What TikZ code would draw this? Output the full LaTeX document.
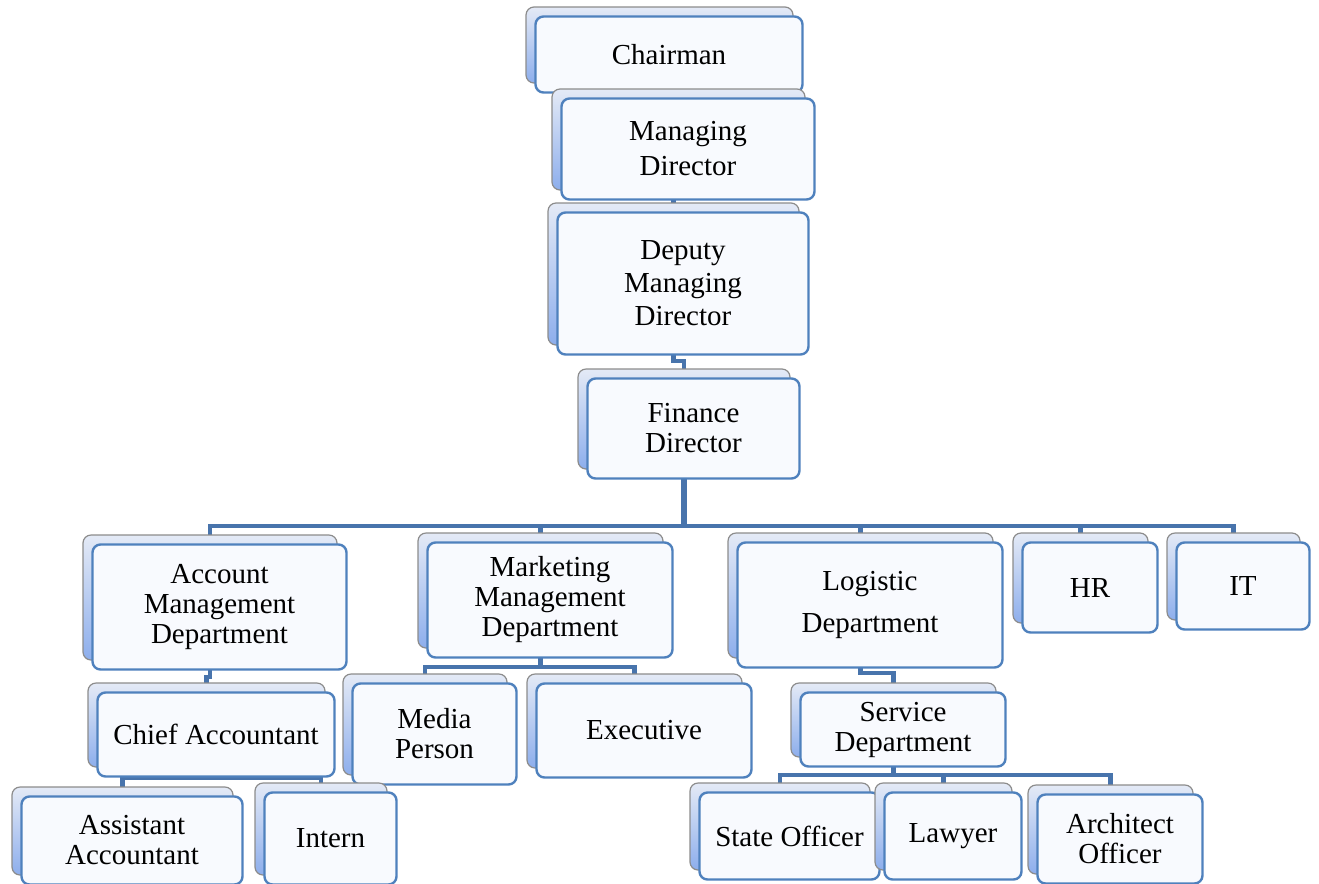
\documentclass[tikz,border=0pt]{standalone}
\usepackage{fontspec}
\setmainfont{Liberation Serif}
\usetikzlibrary{calc}
\pgfdeclarelayer{bg}
\pgfsetlayers{bg,main}
\definecolor{conncol}{HTML}{4874AC}
\definecolor{frontcol}{HTML}{4F81BD}
\definecolor{frontfill}{HTML}{F8FAFE}
\definecolor{backtop}{HTML}{E4EAF6}
\definecolor{backbot}{HTML}{8DAEEC}
\definecolor{backline}{HTML}{8C8C8C}
\tikzset{
  backbox/.style={rectangle, rounded corners=6pt, draw=backline, line width=0.9pt,
    top color=backtop, bottom color=backbot, inner sep=0pt, outer sep=0pt},
  frontbox/.style={rectangle, rounded corners=6pt, draw=frontcol, line width=1.8pt,
    fill=frontfill, inner sep=0pt, outer sep=0pt, align=center,
    font=\fontsize{21.75}{22.5}\selectfont},
  conn/.style={draw=conncol, line width=3.2pt, line join=miter},
}
% #1 extra front options, #2 name, #3 x1, #4 y1, #5 x2, #6 y2, #7 text
\newcommand\orgbox[7][]{%
  \node[backbox, minimum width={(#5-#3)*0.75pt}, minimum height={(#6-#4)*0.75pt}]
    (#2B) at ({(#3+#5)/2},{(#4+#6)/2}) {};
  \node[frontbox, minimum width={(#5-#3)*0.75pt}, minimum height={(#6-#4)*0.75pt}, #1]
    (#2) at ({(#3+#5)/2+9.5},{(#4+#6)/2+9.5}) {#7};
}
\begin{document}
\begin{tikzpicture}[x=0.75pt,y=-0.75pt]
\useasboundingbox (0,0) rectangle (1319,883);
\begin{pgfonlayer}{bg}
\fill[white] (0,0) rectangle (1319,883);
\end{pgfonlayer}

\orgbox{chair}{526}{7}{793}{83}{Chairman}
\orgbox[font=\fontsize{21.75}{26.25}\selectfont]{md}{552}{89}{805}{190}{Managing\\Director}
\orgbox[font=\fontsize{21.75}{24.75}\selectfont]{dep}{548}{203}{799}{345}{Deputy\\Managing\\Director}
\orgbox{fin}{578}{369}{790}{469}{Finance\\Director}
\orgbox{acc}{83}{535}{337}{660}{Account\\Management\\Department}
\orgbox{mkt}{418}{533}{663}{648}{Marketing\\Management\\Department}
\orgbox[font=\fontsize{21.75}{31.5}\selectfont]{log}{728}{533}{993}{658}{Logistic\\Department}
\orgbox{hr}{1013}{533}{1148}{623}{HR}
\orgbox{it}{1167}{533}{1300}{620}{IT}
\orgbox{chief}{88}{683}{325}{767}{Chief Accountant}
\orgbox{media}{343}{674}{507}{775}{Media\\Person}
\orgbox{exec}{527}{674}{742}{768}{Executive}
\orgbox{serv}{791}{683}{996}{757}{Service\\Department}
\orgbox{asst}{12}{787}{233}{875}{Assistant\\Accountant}
\orgbox{intern}{255}{783}{387}{875}{Intern}
\orgbox{state}{690}{783}{870}{870}{State Officer}
\orgbox{lawyer}{875}{783}{1012}{870}{Lawyer}
\orgbox{arch}{1028}{785}{1193}{874}{Architect\\Officer}

\coordinate (lvA) at (0,86);
\coordinate (lvB) at (0,196);
\coordinate (lvC) at (0,361);
\coordinate (lvD) at (0,526);
\coordinate (lvE) at (0,677);
\coordinate (lvF) at (0,667);
\coordinate (lvG) at (0,673);
\coordinate (lvH) at (0,778);
\coordinate (lvI) at (0,775);

\begin{pgfonlayer}{bg}
\draw[conn] (chairB.south) -- (chairB.south |- lvA) -| (mdB.north);
\draw[conn] (mdB.south) -- (mdB.south |- lvB) -| (depB.north);
\draw[conn] (depB.south) -- (depB.south |- lvC) -| (finB.north);
\draw[conn, line width=3.8pt] (finB.south) -- (finB.south |- lvD);
\foreach \c in {acc,mkt,log,hr,it}{
  \draw[conn] (finB.south |- lvD) -| (\c B.north);
}
\draw[conn] (accB.south) -- (accB.south |- lvE) -| (chiefB.north);
\draw[conn] (chiefB.south) -- (chiefB.south |- lvH) -| (asstB.north);
\draw[conn] (chiefB.south) -- (chiefB.south |- lvH) -| (internB.north);
\draw[conn] (mktB.south) -- (mktB.south |- lvF) -| (mediaB.north);
\draw[conn] (mktB.south) -- (mktB.south |- lvF) -| (execB.north);
\draw[conn] (logB.south) -- (logB.south |- lvG) -| (servB.north);
\foreach \c in {state,lawyer,arch}{
  \draw[conn] (servB.south) -- (servB.south |- lvI) -| (\c B.north);
}
\end{pgfonlayer}
\end{tikzpicture}
\end{document}
